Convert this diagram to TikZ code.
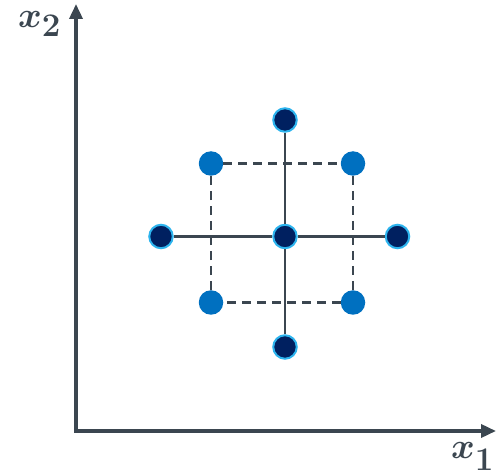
\RequirePackage{fix-cm}
\documentclass[tikz,border=0pt]{standalone}
\usepackage{amsmath,bm}
\usetikzlibrary{arrows.meta}
\definecolor{axisgray}{HTML}{3B4650}
\definecolor{navyfill}{HTML}{002060}
\definecolor{ringblue}{HTML}{2DB4EE}
\definecolor{midblue}{HTML}{0070C0}
\begin{document}
\begin{tikzpicture}[x=1pt,y=-1pt,
  axisline/.style={draw=axisgray,line width=3.5pt,line join=miter,
    {Triangle[length=15pt,width=13pt]}-{Triangle[length=15pt,width=13pt]}},
  solidline/.style={draw=axisgray,line width=2.6pt},
  dashline/.style={draw=axisgray,line width=2.3pt,dash pattern=on 9pt off 6pt},
  darkpt/.style={circle,fill=navyfill,draw=ringblue,line width=2pt,minimum size=23.5pt,inner sep=0pt},
  bluept/.style={circle,fill=midblue,minimum size=24.5pt,inner sep=0pt},
  axlabel/.style={text=axisgray,inner sep=0pt,anchor=base west}]
\useasboundingbox (0,0) rectangle (499,476);
\coordinate (Ytip) at (76,4);
\coordinate (O) at (76,431);
\coordinate (Xtip) at (496,431);
\draw[axisline] (Ytip) -- (O) -- (Xtip);
\node[axlabel] (lx2) at (18,28) {\fontsize{36}{40}\selectfont$\boldsymbol{x}$\raisebox{-9pt}{\fontsize{33}{38}\selectfont$\mathbf{2}$}};
\node[axlabel] (lx1) at (451,458) {\fontsize{36}{40}\selectfont$\boldsymbol{x}$\raisebox{-13pt}{\fontsize{33}{38}\selectfont$\mathbf{1}$}};
% corner points
\node[bluept] (tl) at (211,163.5) {};
\node[bluept] (tr) at (353,163.5) {};
\node[bluept] (bl) at (211,302.5) {};
\node[bluept] (br) at (353,302.5) {};
\draw[dashline] (tl) -- (tr);
\draw[dashline] (tr) -- (br);
\draw[dashline] (br) -- (bl);
\draw[dashline] (bl) -- (tl);
% cross points
\node[darkpt] (c) at (285,236.5) {};
\node[darkpt] (t) at (285,120) {};
\node[darkpt] (b) at (285,347) {};
\node[darkpt] (l) at (161,236.5) {};
\node[darkpt] (r) at (397.5,236.5) {};
\draw[solidline] (t) -- (c);
\draw[solidline] (c) -- (b);
\draw[solidline] (l) -- (c);
\draw[solidline] (c) -- (r);
\end{tikzpicture}
\end{document}
